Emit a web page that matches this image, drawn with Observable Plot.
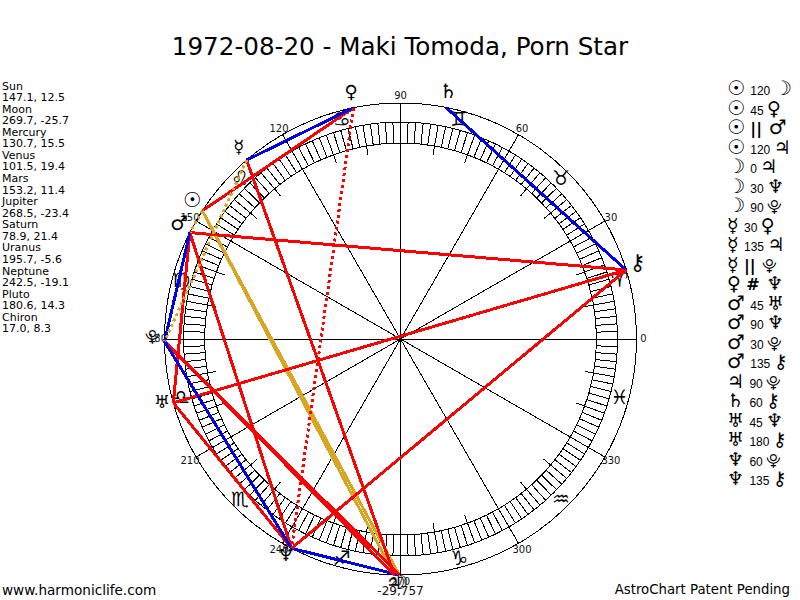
<!DOCTYPE html>
<html><head><meta charset="utf-8">
<script src="https://cdn.jsdelivr.net/npm/d3@7"></script>
<script src="https://cdn.jsdelivr.net/npm/@observablehq/plot@0.6"></script>
<style>
html,body{margin:0;padding:0;background:#fff;width:800px;height:600px;overflow:hidden}
#wrap{position:relative;width:800px;height:600px;font-family:"DejaVu Sans",sans-serif;color:#000}
#wrap svg{position:absolute;left:0;top:0}
#title{position:absolute;left:0;width:800px;top:32px;text-align:center;font-size:24.6px;line-height:30px;white-space:nowrap}
#list{position:absolute;left:2px;top:80.5px;font-size:11px;line-height:11.57px;white-space:nowrap}
#aspects{position:absolute;left:727px;top:79px;white-space:nowrap;font-size:12px;font-family:"Liberation Sans",sans-serif}
#aspects div{height:19.5px;line-height:19.5px}
#aspects .g{font-family:"DejaVu Sans";font-size:19px;line-height:19px}
#aspects .first{margin-right:2px}
#aspects .big{font-weight:bold;font-size:20px}
#aspects .small{font-size:15px}
#aspects .m{font-family:"DejaVu Sans";font-size:16px;font-weight:bold}
#footL{position:absolute;left:2px;top:582px;font-size:13.6px;line-height:16px}
#footR{position:absolute;right:10px;top:582px;font-size:13.3px;line-height:16px}
</style></head><body>
<div id="wrap">
<div id="chart"></div>
<div id="title"></div>
<div id="list"></div>
<div id="aspects"></div>
<div id="footL"></div>
<div id="footR"></div>
</div>
<script>
const titleText = "1972-08-20 - Maki Tomoda, Porn Star";
const footLeft = "www.harmoniclife.com";
const footRight = "AstroChart Patent Pending";
const bottomValue = "-29,757";

const planetNames = ["Sun","Moon","Mercury","Venus","Mars","Jupiter","Saturn","Uranus","Neptune","Pluto","Chiron"];
const longitudes  = [147.1,269.7,130.7,101.5,153.2,268.5,78.9,195.7,242.5,180.6,17.0];
const declinations= ["12.5","-25.7","15.5","19.4","11.4","-23.4","21.4","-5.6","-19.1","14.3","8.3"];
const planetGlyphs= ["☉","☽","☿","♀","♂","♃","♄","♅","♆","⯓","⚷"];
const planetGlyphSizes = [21,20,18,18,20,18,20,18,20,15,22];

const zodiacGlyphs = ["♈","♉","♊","♋","♌","♍","♎","♏","♐","♑","♒","♓"];
const zodiacMidpoints = [15,45,75,105,135,165,195,225,255,285,315,345];
const degreeLabels = [0,30,60,90,120,150,180,210,240,270,300,330];

const aspectFrom = ["Sun","Sun","Sun","Sun","Moon","Moon","Moon","Mercury","Mercury","Mercury","Venus","Mars","Mars","Mars","Mars","Jupiter","Saturn","Uranus","Uranus","Neptune","Neptune"];
const aspectKind = ["120","45","||","120","0","30","90","30","135","||","#","45","90","30","135","90","60","45","180","60","135"];
const aspectTo   = ["Moon","Venus","Mars","Jupiter","Jupiter","Neptune","Pluto","Venus","Jupiter","Pluto","Neptune","Uranus","Neptune","Pluto","Chiron","Pluto","Chiron","Neptune","Chiron","Pluto","Chiron"];
const aspectColors = {"120":"#DAA520","60":"#0000E6","30":"#0000E6","||":"#DAA520","#":"#FF0000"};

const rOuter = 236, rRingOut = 217, rRingIn = 196, rTickIn = 187, rLabel = 243, rZodiac = 227, rGlyph = 248;

const pol = (deg, r) => ({x: r*Math.cos(deg*Math.PI/180), y: r*Math.sin(deg*Math.PI/180)});
const lon = Object.fromEntries(planetNames.map((n,i)=>[n,longitudes[i]]));
const glyphOf = Object.fromEntries(planetNames.map((n,i)=>[n,planetGlyphs[i]]));
const radial = (deg, r0, r1) => ({a: pol(deg,r0), b: pol(deg,r1)});

const ringLines = d3.range(0,360,2).map(d=>radial(d,rRingIn,rRingOut));
const longTicks = d3.range(0,360,10).filter(d=>d%30).map(d=>radial(d,rTickIn,rRingOut));
const spokes = degreeLabels.map(d=>radial(d,0,rOuter));
const aspects = aspectFrom.map((f,i)=>({a:pol(lon[f],rOuter), b:pol(lon[aspectTo[i]],rOuter), kind:aspectKind[i]}));
const segOpts = {x1:d=>d.a.x, y1:d=>d.a.y, x2:d=>d.b.x, y2:d=>d.b.y, shapeRendering:"crispEdges"};
const solid = aspects.filter(d=>d.kind!=="||" && d.kind!=="#");
const dotted = aspects.filter(d=>d.kind==="||" || d.kind==="#");
const colorOf = d => aspectColors[d.kind] || "#FF0000";
const circle = r => Plot.dot([0],{x:()=>0,y:()=>0,r,stroke:"#000",strokeWidth:1,fill:"none",shapeRendering:"crispEdges"});
const onCircle = (vals,r) => ({x:d=>pol(d,r).x, y:d=>pol(d,r).y});

const chart = Plot.plot({
  width:800,height:600,margin:0,
  x:{domain:[-400,400],range:[0,800],axis:null},
  y:{domain:[338.5,-261.5],range:[0,600],axis:null},
  style:{background:"transparent"},
  marks:[
    circle(rOuter),circle(rRingOut),circle(rRingIn),
    Plot.link(ringLines,{...segOpts,stroke:"#000",strokeWidth:1}),
    Plot.link(longTicks,{...segOpts,stroke:"#000",strokeWidth:1}),
    Plot.link(spokes,{...segOpts,stroke:"#000",strokeWidth:1}),
    Plot.text(degreeLabels,{...onCircle(degreeLabels,rLabel),text:d=>String(d),fontSize:10,fontFamily:"DejaVu Sans",fill:"#111"}),
    Plot.text(zodiacMidpoints,{...onCircle(zodiacMidpoints,rZodiac),text:(d,i)=>zodiacGlyphs[i]+"\uFE0E",fontSize:20,fontFamily:"DejaVu Sans",fill:"#000"}),
    Plot.link(solid,{...segOpts,stroke:colorOf,strokeWidth:3}),
    Plot.link(dotted,{...segOpts,stroke:colorOf,strokeWidth:3,strokeDasharray:"3,3"}),
    Plot.text(longitudes,{...onCircle(longitudes,rGlyph),dy:-4,text:(d,i)=>planetGlyphs[i]+"\uFE0E",fontSize:(d,i)=>planetGlyphSizes[i],fontWeight:(d,i)=>planetNames[i]==="Sun"?"bold":"normal",fontFamily:"DejaVu Sans",fill:"#000"}),
    Plot.text([bottomValue],{x:()=>0,y:()=>pol(270,252).y,text:d=>d,fontSize:12,fontFamily:"DejaVu Sans",fill:"#111"})
  ]
});
document.getElementById("chart").append(chart);

document.getElementById("title").textContent = titleText;
document.getElementById("footL").textContent = footLeft;
document.getElementById("footR").textContent = footRight;
document.getElementById("list").innerHTML = planetNames.map((n,i)=>`${n}<br>${longitudes[i].toFixed(1)}, ${declinations[i]}`).join("<br>");
const legendGlyph = (n,cls) => `<span class="g ${cls}${n==="Sun"||n==="Moon"||n==="Mars"?" big":""}${n==="Pluto"?" small":""}">${glyphOf[n]}\uFE0E</span>`;
document.getElementById("aspects").innerHTML = aspectFrom.map((f,i)=>{
  const k = aspectKind[i];
  const mid = (k==="||"||k==="#") ? `<span class="m">${k}</span>&nbsp;&nbsp;` : k+"&nbsp;";
  return `<div>${legendGlyph(f,"first")}&nbsp;${mid}${legendGlyph(aspectTo[i],"")}</div>`;
}).join("");
</script>
</body></html>
